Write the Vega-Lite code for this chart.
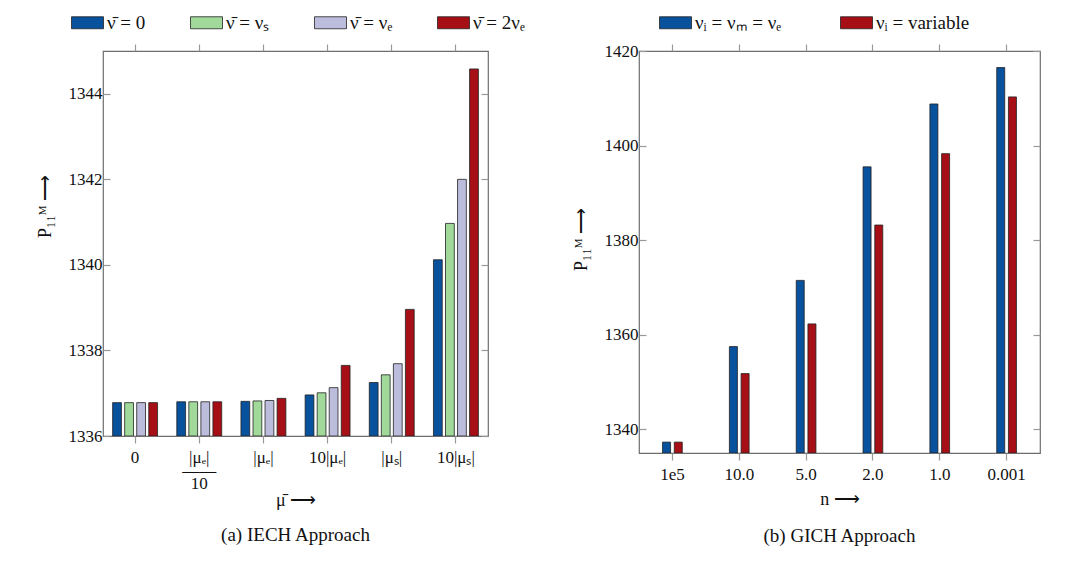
{
  "$schema": "https://vega.github.io/schema/vega-lite/v6.json",
  "background": "white",
  "padding": {"left": 35, "top": 5, "right": 5, "bottom": 5},
  "bounds": "flush",
  "spacing": 151,
  "config": {
    "font": "Liberation Serif",
    "view": {"stroke": "#6e6e6e", "strokeWidth": 1.2},
    "axis": {
      "labelFont": "Liberation Serif",
      "titleFont": "Liberation Serif",
      "labelFontSize": 17,
      "titleFontSize": 18,
      "titleFontWeight": "normal",
      "labelColor": "#111",
      "titleColor": "#111",
      "domain": false,
      "grid": false,
      "tickColor": "#999",
      "tickWidth": 1.2,
      "tickSize": 7
    },
    "legend": {
      "orient": "none",
      "direction": "horizontal",
      "title": null,
      "symbolType": "M-1,-0.375L1,-0.375L1,0.375L-1,0.375Z",
      "symbolSize": 1024,
      "symbolStrokeColor": "#222",
      "symbolStrokeWidth": 0.8,
      "symbolOpacity": 1,
      "labelFont": "Liberation Serif",
      "labelFontSize": 19,
      "labelColor": "#111",
      "labelOffset": 3,
      "columnPadding": 40
    },
    "title": {"font": "Liberation Serif", "fontSize": 19, "fontWeight": "normal", "color": "#111"}
  },
  "hconcat": [
    {
      "width": 385,
      "height": 385,
      "title": {"text": "(a) IECH Approach", "orient": "bottom", "offset": 17},
      "data": {
        "values": [
          {"mu": "0", "nu": "ν̄ = 0", "value": 1336.78},
          {"mu": "0", "nu": "ν̄ = νₛ", "value": 1336.78},
          {"mu": "0", "nu": "ν̄ = νₑ", "value": 1336.78},
          {"mu": "0", "nu": "ν̄ = 2νₑ", "value": 1336.78},
          {"mu": "|μₑ|/10", "nu": "ν̄ = 0", "value": 1336.8},
          {"mu": "|μₑ|/10", "nu": "ν̄ = νₛ", "value": 1336.8},
          {"mu": "|μₑ|/10", "nu": "ν̄ = νₑ", "value": 1336.8},
          {"mu": "|μₑ|/10", "nu": "ν̄ = 2νₑ", "value": 1336.8},
          {"mu": "|μₑ|", "nu": "ν̄ = 0", "value": 1336.81},
          {"mu": "|μₑ|", "nu": "ν̄ = νₛ", "value": 1336.82},
          {"mu": "|μₑ|", "nu": "ν̄ = νₑ", "value": 1336.83},
          {"mu": "|μₑ|", "nu": "ν̄ = 2νₑ", "value": 1336.88},
          {"mu": "10|μₑ|", "nu": "ν̄ = 0", "value": 1336.96},
          {"mu": "10|μₑ|", "nu": "ν̄ = νₛ", "value": 1337.01},
          {"mu": "10|μₑ|", "nu": "ν̄ = νₑ", "value": 1337.13},
          {"mu": "10|μₑ|", "nu": "ν̄ = 2νₑ", "value": 1337.65},
          {"mu": "|μₛ|", "nu": "ν̄ = 0", "value": 1337.25},
          {"mu": "|μₛ|", "nu": "ν̄ = νₛ", "value": 1337.43},
          {"mu": "|μₛ|", "nu": "ν̄ = νₑ", "value": 1337.69},
          {"mu": "|μₛ|", "nu": "ν̄ = 2νₑ", "value": 1338.96},
          {"mu": "10|μₛ|", "nu": "ν̄ = 0", "value": 1340.12},
          {"mu": "10|μₛ|", "nu": "ν̄ = νₛ", "value": 1340.97},
          {"mu": "10|μₛ|", "nu": "ν̄ = νₑ", "value": 1342.0},
          {"mu": "10|μₛ|", "nu": "ν̄ = 2νₑ", "value": 1344.58}
        ]
      },
      "layer": [
        {
          "mark": {"type": "bar", "stroke": "#222", "strokeWidth": 0.8, "clip": true},
          "encoding": {
            "x": {
              "field": "mu",
              "type": "nominal",
              "sort": ["0", "|μₑ|/10", "|μₑ|", "10|μₑ|", "|μₛ|", "10|μₛ|"],
              "scale": {"paddingInner": 0.3, "paddingOuter": 0.15},
              "axis": {
                "orient": "bottom",
                "title": "μ̄ ⟶",
                "labelFont": "Liberation Serif",
                "titleFont": "Liberation Serif",
                "labelAngle": 0,
                "labelPadding": 6,
                "labelLineHeight": 13,
                "labelExpr": "datum.value == '|μₑ|/10' ? ['|μₑ|', '——', '10'] : datum.label",
                "titlePadding": 0
              }
            },
            "xOffset": {
              "field": "nu",
              "type": "nominal",
              "sort": null,
              "scale": {"domain": ["ν̄ = 0", "ν̄ = νₛ", "ν̄ = νₑ", "ν̄ = 2νₑ"], "paddingInner": 0.27, "paddingOuter": 0}
            },
            "y": {
              "field": "value",
              "type": "quantitative",
              "scale": {"domain": [1336, 1345], "zero": false, "nice": false},
              "axis": {
                "values": [1336, 1338, 1340, 1342, 1344],
                "format": "d",
                "title": "P₁₁ᴹ ⟶",
                "labelFont": "Liberation Serif",
                "titleFont": "Liberation Serif",
                "tickSize": -7,
                "labelPadding": 8,
                "titlePadding": 14,
                "titleY": 155
              }
            },
            "y2": {"datum": 1336},
            "color": {
              "field": "nu",
              "type": "nominal",
              "sort": null,
              "scale": {
                "domain": ["ν̄ = 0", "ν̄ = νₛ", "ν̄ = νₑ", "ν̄ = 2νₑ"],
                "range": ["#08519c", "#a1d99b", "#bcbddc", "#a50f15"]
              },
              "legend": {"legendX": -32, "legendY": -45, "labelFont": "Liberation Serif", "columnPadding": 42}
            }
          }
        },
        {
          "mark": {"type": "bar", "opacity": 0, "clip": true},
          "encoding": {
            "x": {
              "field": "mu",
              "type": "nominal",
              "sort": ["0", "|μₑ|/10", "|μₑ|", "10|μₑ|", "|μₛ|", "10|μₛ|"],
              "scale": {"paddingInner": 0.3, "paddingOuter": 0.15},
              "axis": {"orient": "top", "labels": false, "title": null}
            },
            "y": {
              "field": "value",
              "type": "quantitative",
              "scale": {"domain": [1336, 1345], "zero": false, "nice": false},
              "axis": {
                "orient": "right",
                "labels": false,
                "title": null,
                "values": [1336, 1338, 1340, 1342, 1344],
                "tickSize": -7
              }
            },
            "y2": {"datum": 1336}
          }
        }
      ],
      "resolve": {"axis": {"x": "independent", "y": "independent"}}
    },
    {
      "width": 401,
      "height": 402,
      "title": {"text": "(b) GICH Approach", "orient": "bottom", "offset": 19},
      "data": {
        "values": [
          {"n": "1e5", "series": "νᵢ = νₘ = νₑ", "value": 1337.3},
          {"n": "1e5", "series": "νᵢ = variable", "value": 1337.3},
          {"n": "10.0", "series": "νᵢ = νₘ = νₑ", "value": 1357.5},
          {"n": "10.0", "series": "νᵢ = variable", "value": 1351.8},
          {"n": "5.0", "series": "νᵢ = νₘ = νₑ", "value": 1371.5},
          {"n": "5.0", "series": "νᵢ = variable", "value": 1362.3},
          {"n": "2.0", "series": "νᵢ = νₘ = νₑ", "value": 1395.5},
          {"n": "2.0", "series": "νᵢ = variable", "value": 1383.2},
          {"n": "1.0", "series": "νᵢ = νₘ = νₑ", "value": 1408.8},
          {"n": "1.0", "series": "νᵢ = variable", "value": 1398.3},
          {"n": "0.001", "series": "νᵢ = νₘ = νₑ", "value": 1416.5},
          {"n": "0.001", "series": "νᵢ = variable", "value": 1410.3}
        ]
      },
      "layer": [
        {
          "mark": {"type": "bar", "stroke": "#222", "strokeWidth": 0.8, "clip": true},
          "encoding": {
            "x": {
              "field": "n",
              "type": "nominal",
              "sort": ["1e5", "10.0", "5.0", "2.0", "1.0", "0.001"],
              "scale": {"paddingInner": 0.705, "paddingOuter": 0.3525},
              "axis": {
                "orient": "bottom",
                "title": "n ⟶",
                "labelFont": "Liberation Serif",
                "titleFont": "Liberation Serif",
                "labelAngle": 0,
                "labelPadding": 6,
                "titlePadding": 8
              }
            },
            "xOffset": {
              "field": "series",
              "type": "nominal",
              "sort": null,
              "scale": {"domain": ["νᵢ = νₘ = νₑ", "νᵢ = variable"], "paddingInner": 0.316, "paddingOuter": 0}
            },
            "y": {
              "field": "value",
              "type": "quantitative",
              "scale": {"domain": [1335, 1420], "zero": false, "nice": false},
              "axis": {
                "values": [1340, 1360, 1380, 1400, 1420],
                "format": "d",
                "title": "P₁₁ᴹ ⟶",
                "labelFont": "Liberation Serif",
                "titleFont": "Liberation Serif",
                "tickSize": -7,
                "labelPadding": 8,
                "titlePadding": 14,
                "titleY": 188
              }
            },
            "y2": {"datum": 1335},
            "color": {
              "field": "series",
              "type": "nominal",
              "sort": null,
              "scale": {
                "domain": ["νᵢ = νₘ = νₑ", "νᵢ = variable"],
                "range": ["#08519c", "#a50f15"]
              },
              "legend": {"legendX": 20, "legendY": -45, "labelFont": "Liberation Serif", "columnPadding": 56}
            }
          }
        },
        {
          "mark": {"type": "bar", "opacity": 0, "clip": true},
          "encoding": {
            "x": {
              "field": "n",
              "type": "nominal",
              "sort": ["1e5", "10.0", "5.0", "2.0", "1.0", "0.001"],
              "scale": {"paddingInner": 0.705, "paddingOuter": 0.3525},
              "axis": {"orient": "top", "labels": false, "title": null}
            },
            "y": {
              "field": "value",
              "type": "quantitative",
              "scale": {"domain": [1335, 1420], "zero": false, "nice": false},
              "axis": {
                "orient": "right",
                "labels": false,
                "title": null,
                "values": [1340, 1360, 1380, 1400, 1420],
                "tickSize": -7
              }
            },
            "y2": {"datum": 1335}
          }
        }
      ],
      "resolve": {"axis": {"x": "independent", "y": "independent"}}
    }
  ],
  "resolve": {
    "scale": {"color": "independent", "xOffset": "independent", "x": "independent", "y": "independent"},
    "legend": {"color": "independent"}
  }
}
